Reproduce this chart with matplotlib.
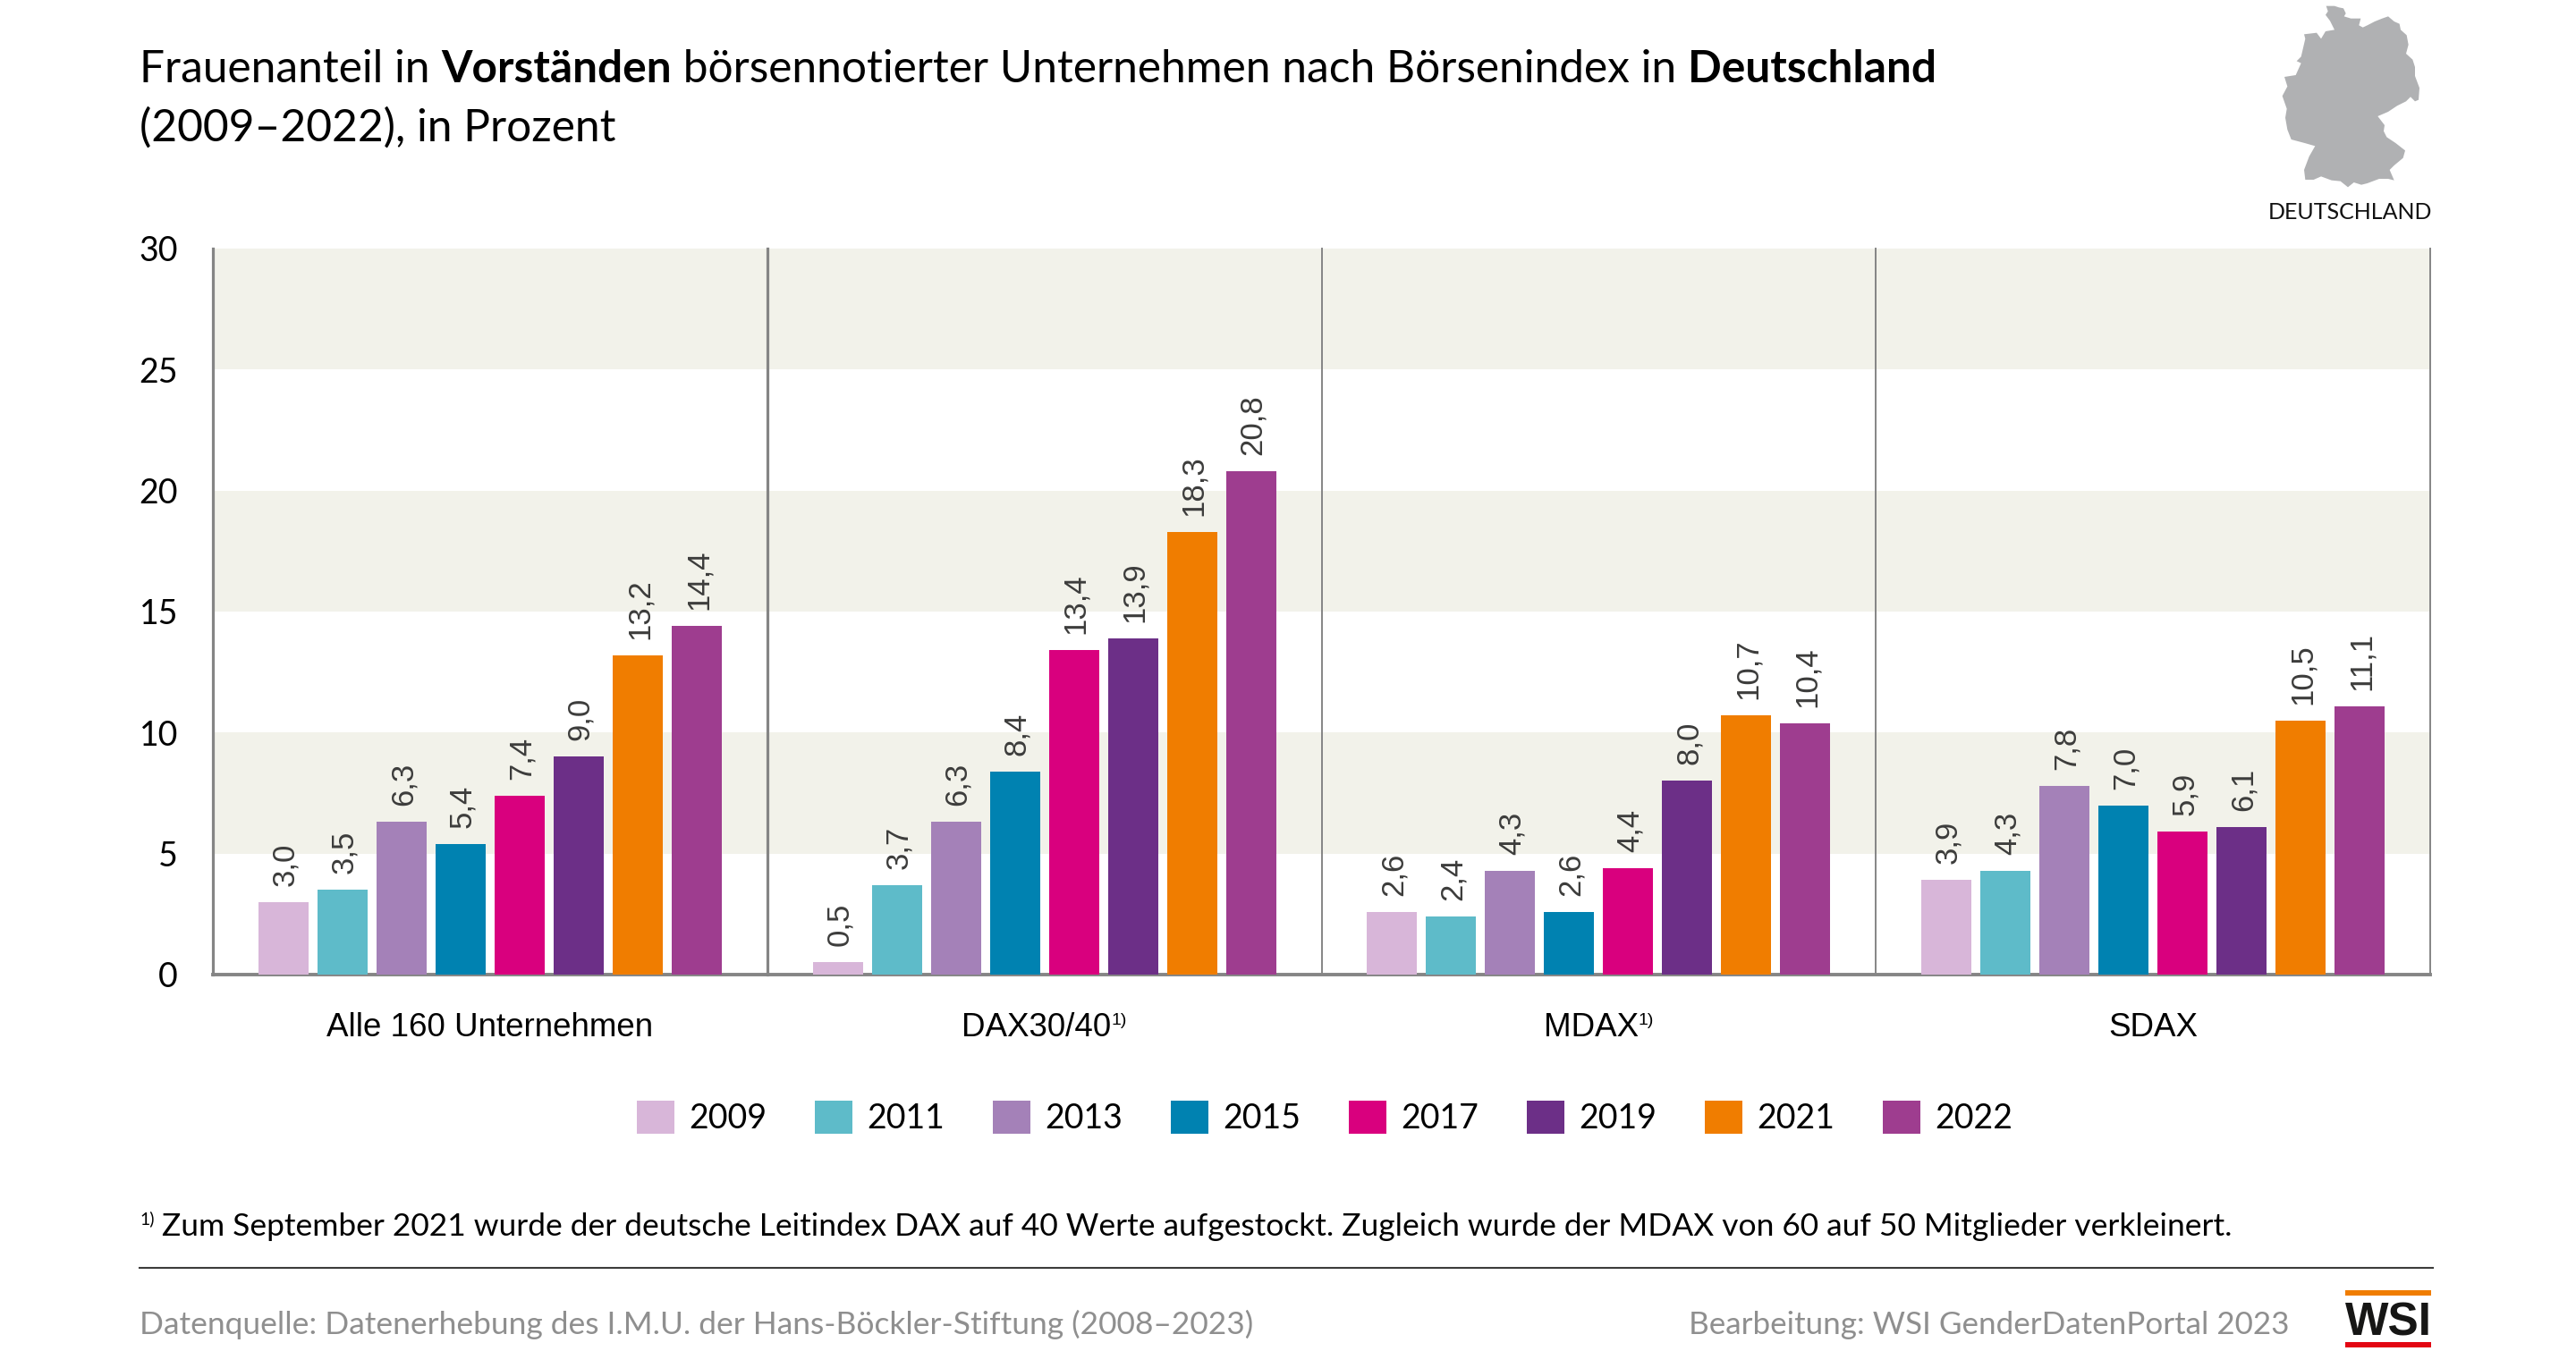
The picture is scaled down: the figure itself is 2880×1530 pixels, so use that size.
import matplotlib
matplotlib.use('Agg')
import matplotlib.pyplot as plt
from matplotlib.patches import Patch, Polygon, Rectangle
import numpy as np

plt.rcParams['font.family'] = ['Lato', 'Liberation Sans', 'DejaVu Sans']

W, H = 2880, 1530

#%% data
years = ['2009', '2011', '2013', '2015', '2017', '2019', '2021', '2022']
alle = [3.0, 3.5, 6.3, 5.4, 7.4, 9.0, 13.2, 14.4]
dax = [0.5, 3.7, 6.3, 8.4, 13.4, 13.9, 18.3, 20.8]
mdax = [2.6, 2.4, 4.3, 2.6, 4.4, 8.0, 10.7, 10.4]
sdax = [3.9, 4.3, 7.8, 7.0, 5.9, 6.1, 10.5, 11.1]
groups = [alle, dax, mdax, sdax]
group_names = ['Alle 160 Unternehmen', 'DAX30/40', 'MDAX', 'SDAX']
group_notes = ['', '1)', '1)', '']
yticks = [0, 5, 10, 15, 20, 25, 30]

colors = ['#D8B6D9', '#5EBBC9', '#A481B8', '#0082B1', '#D9007E', '#6C2F87', '#F07D00', '#9E3D8F']

# outline of the little map, traced in pixels of the picture
map_x = [302, 330, 345, 360, 368, 362, 385, 405, 418, 412, 425, 440, 465, 490, 510, 530, 548, 552, 572, 578, 570, 592,
         600, 600, 615, 612, 600, 585, 570, 540, 510, 475, 498, 495, 505, 535, 567, 560, 530, 515, 530, 510, 480, 440,
         420, 395, 375, 350, 320, 285, 260, 232, 228, 245, 265, 230, 185, 172, 165, 170, 155, 172, 162, 200, 218, 203,
         218, 232, 228, 270, 285, 300, 330, 315, 300, 308]
map_y = [20, 20, 25, 28, 45, 55, 62, 62, 62, 85, 92, 85, 72, 62, 55, 72, 80, 100, 118, 150, 180, 200,
         225, 255, 295, 335, 340, 325, 340, 355, 375, 390, 420, 440, 460, 480, 505, 530, 555, 570, 605, 600, 600, 615,
         620, 612, 628, 608, 605, 592, 603, 603, 570, 525, 490, 480, 468, 435, 395, 365, 322, 290, 258, 252, 212, 205,
         190, 130, 115, 110, 130, 105, 100, 70, 50, 38]

#%% helpers
fig = plt.figure(figsize=(W / 100, H / 100), dpi=100, facecolor='white')


def px(x, y):
    return x / W, 1 - y / H


def runs(x, y, parts, color='black', ha='left', family=None):
    # parts: (text, size, weight, raise in px); laid out one after the other
    rend = fig.canvas.get_renderer()
    items = []
    total = 0
    for txt, size, weight, rise in parts:
        t = fig.text(*px(x, y - rise), txt, fontsize=size, fontweight=weight, color=color, va='baseline', ha='left',
                     family=family or plt.rcParams['font.family'])
        w = t.get_window_extent(rend).width
        items.append((t, total))
        total += w
    start = x - total / 2 if ha == 'center' else x
    for t, off in items:
        t.set_x((start + off) / W)


#%% chart
ax = fig.add_axes([238 / W, 1 - 1090 / H, (2717 - 238) / W, (1090 - 278) / H])
ax.set_xlim(0, 4)
ax.set_ylim(0, 30)

for low in [5, 15, 25]:
    ax.axhspan(low, low + 5, color='#F2F2EA', lw=0, zorder=0)

panel_px = (2717 - 238) / 4
bar_w = 56 / panel_px
step = 66 / panel_px
for g, vals in enumerate(groups):
    xs = g + 0.5 + (np.arange(len(vals)) - 3.5) * step
    ax.bar(xs, vals, width=bar_w, color=colors, zorder=3)
    for xx, v in zip(xs, vals):
        ax.annotate(f'{v:.1f}'.replace('.', ','), (xx, v), xytext=(2, 18), textcoords='offset pixels', rotation=90,
                    ha='center', va='bottom', fontsize=25, color='#3C3C3B', family='Liberation Sans', zorder=4)

ax.axvline(1, color='#858585', lw=2.3, zorder=2, clip_on=False)
ax.axvline(2, color='#858585', lw=1.4, zorder=2, clip_on=False)
ax.axvline(3, color='#858585', lw=1.4, zorder=2, clip_on=False)
ax.axvline(4, color='#858585', lw=1.4, zorder=2, clip_on=False)

for s in ['top', 'right']:
    ax.spines[s].set_visible(False)
ax.spines['left'].set_color('#858585')
ax.spines['left'].set_linewidth(2.3)
ax.spines['bottom'].set_color('#858585')
ax.spines['bottom'].set_linewidth(2.8)
ax.set_xticks([])
ax.set_yticks(yticks)
ax.set_yticklabels([str(t) for t in yticks], fontsize=27, color='black')
ax.tick_params(axis='y', length=0, pad=28)

for g, name in enumerate(group_names):
    parts = [(name, 26.5, 'normal', 0)]
    if group_notes[g]:
        parts.append((group_notes[g], 14, 'normal', 13))
    runs(238 + panel_px * (g + 0.5), 1159, parts, ha='center', family='Liberation Sans')

#%% legend
handles = [Patch(color=c, lw=0) for c in colors]
fig.legend(handles, years, loc='center', bbox_to_anchor=px(1481, 1250), ncol=8, frameon=False, fontsize=27,
           handlelength=1.12, handleheight=1.15, handletextpad=0.43, columnspacing=1.44, borderpad=0, borderaxespad=0)

#%% title and texts
title_size = 35.7
runs(156, 92, [('Frauenanteil in ', title_size, 'normal', 0), ('Vorständen', title_size, 'bold', 0),
               (' börsennotierter Unternehmen nach Börsenindex in ', title_size, 'normal', 0),
               ('Deutschland', title_size, 'bold', 0)])
runs(156, 158, [('(2009–2022), in Prozent', title_size, 'normal', 0)])

runs(156, 1382, [('1)', 14, 'normal', 13),
                 (' Zum September 2021 wurde der deutsche Leitindex DAX auf 40 Werte aufgestockt. '
                  'Zugleich wurde der MDAX von 60 auf 50 Mitglieder verkleinert.', 25.5, 'normal', 0)])

fig.add_artist(plt.Line2D([156 / W, 2720 / W], [1 - 1418 / H] * 2, color='#3C3C3B', lw=1.5))

fig.text(*px(156, 1492), 'Datenquelle: Datenerhebung des I.M.U. der Hans-Böckler-Stiftung (2008–2023)', fontsize=25.5,
         color='#8F8F8F', va='baseline')
fig.text(*px(2560, 1492), 'Bearbeitung: WSI GenderDatenPortal 2023', fontsize=25.2, color='#8F8F8F', va='baseline',
         ha='right')

#%% map and logo
mx = 2500 + np.array(map_x) / 3
my = np.array(map_y) / 3
fig.add_artist(Polygon(np.column_stack([mx / W, 1 - my / H]), closed=True, fc='#B0B1B3', ec='none',
                       transform=fig.transFigure))
fig.text(*px(2628, 245), 'DEUTSCHLAND', fontsize=18, ha='center', va='baseline', color='#111111')

fig.add_artist(Rectangle((2622 / W, 1 - 1449 / H), 96 / W, 6 / H, fc='#F07D00', ec='none', transform=fig.transFigure))
fig.add_artist(Rectangle((2622 / W, 1 - 1507 / H), 96 / W, 6 / H, fc='#E30613', ec='none', transform=fig.transFigure))
fig.text(*px(2670, 1493), 'WSI', fontsize=37, fontweight='bold', family='Liberation Sans', ha='center', va='baseline',
         color='#161615')

fig.savefig('out.png', dpi=100)
